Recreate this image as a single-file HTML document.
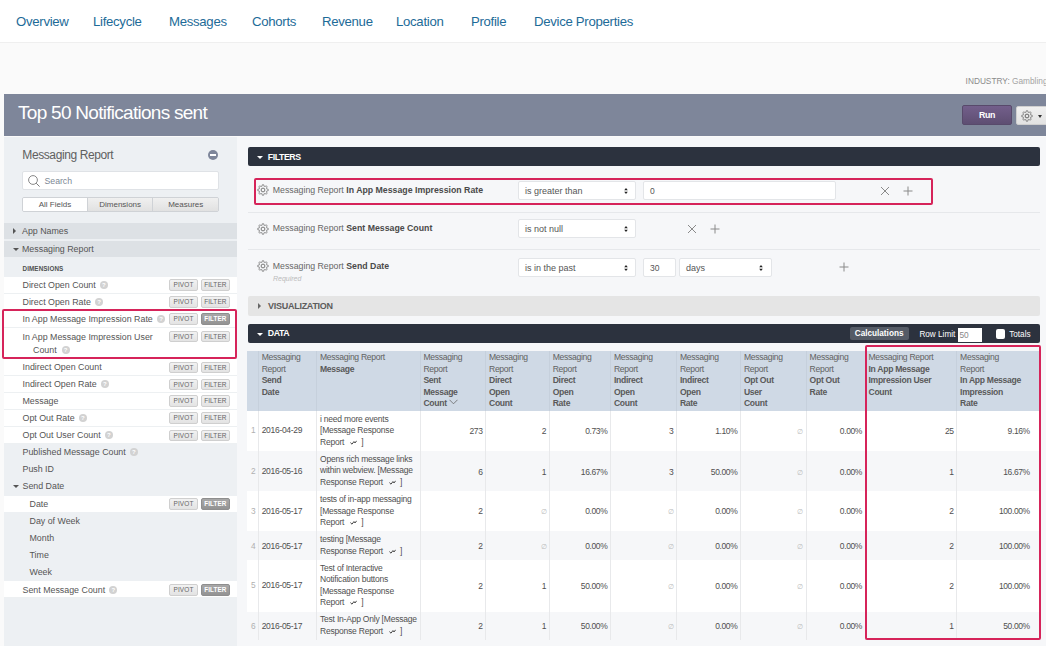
<!DOCTYPE html>
<html><head><meta charset="utf-8">
<style>
*{box-sizing:border-box;margin:0;padding:0}
html,body{width:1046px;height:646px;overflow:hidden;background:#fafafa;font-family:"Liberation Sans",sans-serif;color:#555}
.abs{position:absolute}
#nav{position:absolute;left:0;top:0;width:1046px;height:43px;background:#fff;border-bottom:1px solid #efefef}
#nav span{position:absolute;top:13.5px;font-size:13.2px;letter-spacing:-0.3px;color:#1d6b98;white-space:nowrap;line-height:16px}
#industry{position:absolute;left:965.6px;top:76px;font-size:8.3px;color:#a3a3a3;white-space:nowrap;line-height:10px}
#industry b{color:#8a8a8a;font-weight:400}
#titlebar{position:absolute;left:4px;top:94px;width:1042px;height:42px;background:#7e869a}
#titlebar .t{position:absolute;left:14px;top:8.4px;font-size:19px;letter-spacing:-0.72px;color:#fff;white-space:nowrap;line-height:22px}
#run{position:absolute;left:958px;top:11px;width:50px;height:20px;background:linear-gradient(#735f8b,#5e4e72);border:1px solid #584a6b;border-radius:2px;color:#fff;font-weight:700;font-size:8.8px;letter-spacing:-0.3px;text-align:center;line-height:19.5px}
#gear{position:absolute;left:1012px;top:12px;width:40px;height:19px;background:linear-gradient(#f0f0f0,#e2e2e2);border:1px solid #cfcfcf;border-radius:2px}
#panel{position:absolute;left:4px;top:137px;width:233px;height:509px;background:#edf0f3}
#content{position:absolute;left:237px;top:137px;width:809px;height:509px;background:#f6f7f9}

.ptitle{position:absolute;left:18.3px;top:11.1px;font-size:12px;letter-spacing:-0.4px;color:#606060;white-space:nowrap;line-height:14px}
.minus{position:absolute;left:203.7px;top:13.1px;width:10.4px;height:10.4px;border-radius:50%;background:#7e869a}
.minus:after{content:"";position:absolute;left:2px;top:4.4px;width:6.4px;height:1.6px;background:#fff}
.search{position:absolute;left:18px;top:34px;width:197px;height:19px;background:#fff;border:1px solid #dfe2e6;border-radius:2px}
.search span{position:absolute;left:21.5px;top:3px;font-size:8.7px;color:#7b8794;line-height:12px}
.tabs{position:absolute;left:18px;top:60px;width:197px;height:14.5px;border:1px solid #cfd2d6;border-radius:2px;display:flex;overflow:hidden}
.tab{height:100%;font-size:8px;color:#555;text-align:center;line-height:14px;background:linear-gradient(#f0f0f0,#e1e1e1);border-right:1px solid #cfd2d6}
.tab.act{background:#fff}
.vrow{position:absolute;left:0;width:233px}
.lbl{position:absolute;top:0.4px;font-size:8.85px;color:#555;white-space:nowrap}
.lbl2{position:absolute;top:3.1px;font-size:8.85px;color:#555;white-space:nowrap;line-height:12.7px}
.dimh{position:absolute;left:18.5px;top:127.8px;font-size:6.3px;font-weight:700;color:#505050;letter-spacing:0.1px;line-height:8px}
.fr{position:absolute;left:0;width:233px}
.hq{display:inline-block;width:8px;height:8px;border-radius:50%;background:#d2d2d2;margin-left:4.2px;vertical-align:-1px;position:relative}
.hq:after{content:"?";position:absolute;left:0;top:0;width:8px;line-height:8px;font-size:6px;font-style:normal;font-weight:700;color:#fff;text-align:center}
.pb{position:absolute;top:2.9px;width:28.4px;height:11.5px;border:1px solid #cfcfcf;border-radius:2px;background:linear-gradient(#f2f2f2,#e3e3e3);font-size:6.5px;color:#666;text-align:center;line-height:9.5px;letter-spacing:0.1px}
.pb.fa{background:linear-gradient(#a8a8a8,#939393);border-color:#8e8e8e;color:#fff;font-weight:700;font-size:6.3px}
.tri-r{position:absolute;width:0;height:0;border-top:3.5px solid transparent;border-bottom:3.5px solid transparent;border-left:3.5px solid #555}
.tri-d{position:absolute;width:0;height:0;border-left:3.5px solid transparent;border-right:3.5px solid transparent;border-top:3.5px solid #555}
.redbox{position:absolute;border:2px solid #d6245a;border-radius:2px;pointer-events:none}

.dbar{position:absolute;left:11px;width:792px;height:19px;background:#2c323e;border-radius:2px}
.dbar>span{position:absolute;left:19.8px;top:4.6px;font-size:8.8px;font-weight:700;color:#fff;line-height:10px;letter-spacing:-0.45px}
.tri-dw{position:absolute;width:0;height:0;border-left:3px solid transparent;border-right:3px solid transparent;border-top:3.2px solid #fff}
.tri-rw{position:absolute;width:0;height:0;border-top:3px solid transparent;border-bottom:3px solid transparent;border-left:3px solid #666}
.gear{position:absolute}
.ftxt{position:absolute;left:35.8px;font-size:8.75px;color:#666;white-space:nowrap;line-height:12px}
.ftxt b{color:#4a4a4a}
.sel{position:absolute;height:19px;background:#fff;border:1px solid #e3e5e8;border-radius:2px;font-size:9px;color:#555;padding-left:6px;line-height:19px;white-space:nowrap}
.inp{position:absolute;height:19px;background:#fff;border:1px solid #e3e5e8;border-radius:2px;font-size:8.5px;color:#555;padding-left:6px;line-height:19px}
.xi{position:absolute}
.hsep{position:absolute;left:11px;width:792px;height:1px;background:#e6e8eb}
.req{position:absolute;left:36px;top:136.5px;font-size:7px;font-style:italic;color:#bbb;line-height:9px}
.vbar{position:absolute;left:10.5px;top:159.3px;width:792.5px;height:19.5px;background:#e5e5e5;border-radius:2px}
.vbar span{position:absolute;left:20.6px;top:4.9px;font-size:9px;letter-spacing:-0.28px;font-weight:700;color:#5c5c5c;line-height:10px}
.calc{position:absolute;left:601.6px;top:3.4px;width:59px;height:12.4px;background:#555b66;border-radius:2px;color:#fff;font-weight:700;font-size:8.2px;text-align:center;line-height:13.6px}
.rl{position:absolute;left:671.4px;top:4.8px;font-size:8.2px;color:#fff;line-height:11px;white-space:nowrap}
.rlin{position:absolute;left:709.5px;top:4.6px;width:24.3px;height:13.4px;background:#fff;font-size:8.3px;color:#888;padding-left:2px;line-height:15.5px}
.cb{position:absolute;left:748.4px;top:5.6px;width:8.7px;height:9.6px;background:#fff;border-radius:2px}
.tot{position:absolute;left:761.2px;top:4.8px;font-size:8.2px;color:#fff;line-height:11px}

#tbl{position:absolute;width:792px;height:290px}
.thead{position:absolute;background:#cfd9e5}
.vdh{position:absolute;width:1px;background:#c6d0dc}
.vd{position:absolute;width:1px;background:#e8e9eb}
.hc{position:absolute;font-size:8.6px;letter-spacing:-0.3px;line-height:11.45px;color:#626262;white-space:nowrap}
.hc b{color:#5a5a5a}
.tr{position:absolute;left:0}
.rn{position:absolute;top:0.5px;font-size:8.3px;color:#b0b0b0;text-align:center;padding-left:1px}
.bc{position:absolute;top:0.5px;font-size:8.5px;letter-spacing:-0.3px;color:#505050;white-space:nowrap}
.mc{position:absolute;font-size:8.5px;letter-spacing:-0.21px;line-height:11.45px;color:#505050;white-space:nowrap}
.nc{position:absolute;top:0.7px;font-size:8.5px;letter-spacing:-0.38px;color:#505050;white-space:nowrap;text-align:right}
.nul{font-size:7px;color:#bbb}
</style></head><body>
<div id="nav">
<span style="left:16px">Overview</span>
<span style="left:93px">Lifecycle</span>
<span style="left:169px">Messages</span>
<span style="left:252px">Cohorts</span>
<span style="left:322px">Revenue</span>
<span style="left:396px">Location</span>
<span style="left:471px">Profile</span>
<span style="left:534px">Device Properties</span>
</div>
<div id="industry"><b>INDUSTRY:</b> Gambling</div>
<div id="titlebar"><div class="t">Top 50 Notifications sent</div>
<div id="run">Run</div>
<div id="gear"><svg width="12" height="12" viewBox="-6 -6 12 12" style="position:absolute;left:3.5px;top:2.6px"><path d="M0.00 -5.25 L0.34 -5.24 L0.69 -5.21 L0.89 -4.46 L1.00 -3.72 L1.24 -3.65 L1.47 -3.56 L1.70 -3.45 L1.92 -3.33 L2.53 -3.78 L3.20 -4.17 L3.46 -3.95 L3.71 -3.71 L3.95 -3.46 L4.17 -3.20 L3.78 -2.53 L3.33 -1.92 L3.45 -1.70 L3.56 -1.47 L3.65 -1.24 L3.72 -1.00 L4.46 -0.89 L5.21 -0.69 L5.24 -0.34 L5.25 0.00 L5.24 0.34 L5.21 0.69 L4.46 0.89 L3.72 1.00 L3.65 1.24 L3.56 1.47 L3.45 1.70 L3.33 1.92 L3.78 2.53 L4.17 3.20 L3.95 3.46 L3.71 3.71 L3.46 3.95 L3.20 4.17 L2.53 3.78 L1.92 3.33 L1.70 3.45 L1.47 3.56 L1.24 3.65 L1.00 3.72 L0.89 4.46 L0.69 5.21 L0.34 5.24 L0.00 5.25 L-0.34 5.24 L-0.69 5.21 L-0.89 4.46 L-1.00 3.72 L-1.24 3.65 L-1.47 3.56 L-1.70 3.45 L-1.92 3.33 L-2.53 3.78 L-3.20 4.17 L-3.46 3.95 L-3.71 3.71 L-3.95 3.46 L-4.17 3.20 L-3.78 2.53 L-3.33 1.93 L-3.45 1.70 L-3.56 1.47 L-3.65 1.24 L-3.72 1.00 L-4.46 0.89 L-5.21 0.69 L-5.24 0.34 L-5.25 0.00 L-5.24 -0.34 L-5.21 -0.69 L-4.46 -0.89 L-3.72 -1.00 L-3.65 -1.24 L-3.56 -1.47 L-3.45 -1.70 L-3.33 -1.93 L-3.78 -2.53 L-4.17 -3.20 L-3.95 -3.46 L-3.71 -3.71 L-3.46 -3.95 L-3.20 -4.17 L-2.53 -3.78 L-1.93 -3.33 L-1.70 -3.45 L-1.47 -3.56 L-1.24 -3.65 L-1.00 -3.72 L-0.89 -4.46 L-0.69 -5.21 L-0.34 -5.24 Z" fill="none" stroke="#666" stroke-width="0.8"/><circle r="1.9" fill="none" stroke="#666" stroke-width="1"/></svg><i style="position:absolute;left:21px;top:8px;width:0;height:0;border-left:2.5px solid transparent;border-right:2.5px solid transparent;border-top:3px solid #333"></i></div>
</div>
<div id="panel">
<div class="ptitle">Messaging Report</div>
<div class="minus"></div>
<div class="search"><svg width="13" height="13" viewBox="0 0 13 13" style="position:absolute;left:5px;top:3px"><circle cx="5" cy="5" r="4.4" fill="none" stroke="#7a7a7a" stroke-width="0.9"/><line x1="8.2" y1="8.2" x2="11.6" y2="11.6" stroke="#7a7a7a" stroke-width="1"/></svg><span>Search</span></div>
<div class="tabs"><div class="tab act" style="width:65.4px">All Fields</div><div class="tab" style="width:65.9px">Dimensions</div><div class="tab" style="width:65.1px;border-right:0">Measures</div></div>
<div class="vrow" style="top:86px;height:16px;background:#dde1e5"><i class="tri-r" style="left:9px;top:5px"></i><div class="lbl" style="left:18px;line-height:16px">App Names</div></div>
<div class="vrow" style="top:103.5px;height:16.5px;background:#dde1e5"><i class="tri-d" style="left:9px;top:7px"></i><div class="lbl" style="left:18px;line-height:16.5px">Messaging Report</div></div>
<div class="dimh">DIMENSIONS</div>
<div class="fr" style="top:139.5px;height:17px;background:#fff;border-bottom:1px solid #edf0f2;"><div class="lbl" style="left:18.5px;line-height:17px">Direct Open Count<i class="hq"></i></div><div class="pb" style="left:165.3px">PIVOT</div><div class="pb" style="left:197.2px">FILTER</div></div>
<div class="fr" style="top:156.5px;height:17px;background:#fff;border-bottom:1px solid #edf0f2;"><div class="lbl" style="left:18.5px;line-height:17px">Direct Open Rate<i class="hq"></i></div><div class="pb" style="left:165.3px">PIVOT</div><div class="pb" style="left:197.2px">FILTER</div></div>
<div class="fr" style="top:173.5px;height:17.5px;background:#fff;border-bottom:1px solid #edf0f2;"><div class="lbl" style="left:18.5px;line-height:17.5px">In App Message Impression Rate<i class="hq"></i></div><div class="pb" style="left:165.3px">PIVOT</div><div class="pb fa" style="left:197.2px">FILTER</div></div>
<div class="fr" style="top:191.0px;height:31px;background:#fff;border-bottom:1px solid #edf0f2;"><div class="lbl2" style="left:18.5px">In App Message Impression User<br><span style="padding-left:10.5px">Count</span><i class="hq" style="margin-left:5px"></i></div><div class="pb" style="left:165.3px">PIVOT</div><div class="pb" style="left:197.2px">FILTER</div></div>
<div class="fr" style="top:222.0px;height:16.8px;background:#fff;border-bottom:1px solid #edf0f2;"><div class="lbl" style="left:18.5px;line-height:16.8px">Indirect Open Count</div><div class="pb" style="left:165.3px">PIVOT</div><div class="pb" style="left:197.2px">FILTER</div></div>
<div class="fr" style="top:238.8px;height:16.8px;background:#fff;border-bottom:1px solid #edf0f2;"><div class="lbl" style="left:18.5px;line-height:16.8px">Indirect Open Rate<i class="hq"></i></div><div class="pb" style="left:165.3px">PIVOT</div><div class="pb" style="left:197.2px">FILTER</div></div>
<div class="fr" style="top:255.6px;height:17px;background:#fff;border-bottom:1px solid #edf0f2;"><div class="lbl" style="left:18.5px;line-height:17px">Message</div><div class="pb" style="left:165.3px">PIVOT</div><div class="pb" style="left:197.2px">FILTER</div></div>
<div class="fr" style="top:272.6px;height:17.1px;background:#fff;border-bottom:1px solid #edf0f2;"><div class="lbl" style="left:18.5px;line-height:17.1px">Opt Out Rate<i class="hq"></i></div><div class="pb" style="left:165.3px">PIVOT</div><div class="pb" style="left:197.2px">FILTER</div></div>
<div class="fr" style="top:289.7px;height:17px;background:#fff;border-bottom:1px solid #edf0f2;"><div class="lbl" style="left:18.5px;line-height:17px">Opt Out User Count<i class="hq"></i></div><div class="pb" style="left:165.3px">PIVOT</div><div class="pb" style="left:197.2px">FILTER</div></div>
<div class="fr" style="top:306.7px;height:16.9px;background:#edf0f3;"><div class="lbl" style="left:18.5px;line-height:16.9px">Published Message Count<i class="hq"></i></div></div>
<div class="fr" style="top:323.6px;height:17px;background:#edf0f3;"><div class="lbl" style="left:18.5px;line-height:17px">Push ID</div></div>
<div class="fr" style="top:340.6px;height:17.9px;background:#edf0f3;"><div class="lbl" style="left:18.5px;line-height:17.9px">Send Date</div><i class="tri-d" style="left:9px;top:7.5px"></i></div>
<div class="fr" style="top:358.5px;height:17px;background:#fff;border-bottom:1px solid #edf0f2;"><div class="lbl" style="left:25.5px;line-height:16.8px">Date</div><div class="pb" style="left:165.3px">PIVOT</div><div class="pb fa" style="left:197.2px">FILTER</div></div>
<div class="fr" style="top:375.3px;height:17.2px;background:#edf0f3;"><div class="lbl" style="left:25.5px;line-height:17.2px">Day of Week</div></div>
<div class="fr" style="top:392.5px;height:17.2px;background:#edf0f3;"><div class="lbl" style="left:25.5px;line-height:17.2px">Month</div></div>
<div class="fr" style="top:409.7px;height:17.2px;background:#edf0f3;"><div class="lbl" style="left:25.5px;line-height:17.2px">Time</div></div>
<div class="fr" style="top:426.9px;height:17.4px;background:#edf0f3;"><div class="lbl" style="left:25.5px;line-height:17.4px">Week</div></div>
<div class="fr" style="top:444.3px;height:17.2px;background:#fff;border-bottom:1px solid #edf0f2;"><div class="lbl" style="left:18.5px;line-height:16.9px">Sent Message Count<i class="hq"></i></div><div class="pb" style="left:165.3px">PIVOT</div><div class="pb fa" style="left:197.2px">FILTER</div></div>
<div class="redbox" style="left:-1.8px;top:172px;width:234.6px;height:49.8px"></div>
</div>
<div id="content">
<div class="dbar" style="top:10px"><i class="tri-dw" style="left:9px;top:8.8px"></i><span>FILTERS</span></div>
<svg class="gear" style="left:20.2px;top:47.0px" width="12" height="12" viewBox="-6 -6 12 12"><path d="M0.00 -5.25 L0.34 -5.24 L0.69 -5.21 L0.89 -4.46 L1.00 -3.72 L1.24 -3.65 L1.47 -3.56 L1.70 -3.45 L1.92 -3.33 L2.53 -3.78 L3.20 -4.17 L3.46 -3.95 L3.71 -3.71 L3.95 -3.46 L4.17 -3.20 L3.78 -2.53 L3.33 -1.92 L3.45 -1.70 L3.56 -1.47 L3.65 -1.24 L3.72 -1.00 L4.46 -0.89 L5.21 -0.69 L5.24 -0.34 L5.25 0.00 L5.24 0.34 L5.21 0.69 L4.46 0.89 L3.72 1.00 L3.65 1.24 L3.56 1.47 L3.45 1.70 L3.33 1.92 L3.78 2.53 L4.17 3.20 L3.95 3.46 L3.71 3.71 L3.46 3.95 L3.20 4.17 L2.53 3.78 L1.92 3.33 L1.70 3.45 L1.47 3.56 L1.24 3.65 L1.00 3.72 L0.89 4.46 L0.69 5.21 L0.34 5.24 L0.00 5.25 L-0.34 5.24 L-0.69 5.21 L-0.89 4.46 L-1.00 3.72 L-1.24 3.65 L-1.47 3.56 L-1.70 3.45 L-1.92 3.33 L-2.53 3.78 L-3.20 4.17 L-3.46 3.95 L-3.71 3.71 L-3.95 3.46 L-4.17 3.20 L-3.78 2.53 L-3.33 1.93 L-3.45 1.70 L-3.56 1.47 L-3.65 1.24 L-3.72 1.00 L-4.46 0.89 L-5.21 0.69 L-5.24 0.34 L-5.25 0.00 L-5.24 -0.34 L-5.21 -0.69 L-4.46 -0.89 L-3.72 -1.00 L-3.65 -1.24 L-3.56 -1.47 L-3.45 -1.70 L-3.33 -1.93 L-3.78 -2.53 L-4.17 -3.20 L-3.95 -3.46 L-3.71 -3.71 L-3.46 -3.95 L-3.20 -4.17 L-2.53 -3.78 L-1.93 -3.33 L-1.70 -3.45 L-1.47 -3.56 L-1.24 -3.65 L-1.00 -3.72 L-0.89 -4.46 L-0.69 -5.21 L-0.34 -5.24 Z" fill="none" stroke="#777" stroke-width="0.9"/><circle r="1.9" fill="none" stroke="#777" stroke-width="1"/></svg>
<div class="ftxt" style="top:47px">Messaging Report <b>In App Message Impression Rate</b></div>
<div class="sel" style="left:281px;top:44px;width:118px">is greater than<svg width="4" height="6" viewBox="0 0 4 6" style="position:absolute;right:7.5px;top:6px"><path d="M2 0 L3.8 2.3 L0.2 2.3 Z M2 6 L3.8 3.7 L0.2 3.7 Z" fill="#222"/></svg></div>
<div class="inp" style="left:406px;top:44px;width:193px">0</div>
<svg class="xi" width="10" height="10" viewBox="0 0 10 10" style="left:643px;top:49.30000000000001px"><path d="M1 1 L9 9 M9 1 L1 9" stroke="#8a8a8a" stroke-width="1"/></svg><svg class="xi" width="10" height="10" viewBox="0 0 10 10" style="left:666px;top:49.30000000000001px"><path d="M5 0.5 L5 9.5 M0.5 5 L9.5 5" stroke="#8a8a8a" stroke-width="1"/></svg>
<div class="redbox" style="left:16.8px;top:41px;width:679.5px;height:26.5px"></div>
<div class="hsep" style="top:74.5px"></div>
<svg class="gear" style="left:20.2px;top:85.5px" width="12" height="12" viewBox="-6 -6 12 12"><path d="M0.00 -5.25 L0.34 -5.24 L0.69 -5.21 L0.89 -4.46 L1.00 -3.72 L1.24 -3.65 L1.47 -3.56 L1.70 -3.45 L1.92 -3.33 L2.53 -3.78 L3.20 -4.17 L3.46 -3.95 L3.71 -3.71 L3.95 -3.46 L4.17 -3.20 L3.78 -2.53 L3.33 -1.92 L3.45 -1.70 L3.56 -1.47 L3.65 -1.24 L3.72 -1.00 L4.46 -0.89 L5.21 -0.69 L5.24 -0.34 L5.25 0.00 L5.24 0.34 L5.21 0.69 L4.46 0.89 L3.72 1.00 L3.65 1.24 L3.56 1.47 L3.45 1.70 L3.33 1.92 L3.78 2.53 L4.17 3.20 L3.95 3.46 L3.71 3.71 L3.46 3.95 L3.20 4.17 L2.53 3.78 L1.92 3.33 L1.70 3.45 L1.47 3.56 L1.24 3.65 L1.00 3.72 L0.89 4.46 L0.69 5.21 L0.34 5.24 L0.00 5.25 L-0.34 5.24 L-0.69 5.21 L-0.89 4.46 L-1.00 3.72 L-1.24 3.65 L-1.47 3.56 L-1.70 3.45 L-1.92 3.33 L-2.53 3.78 L-3.20 4.17 L-3.46 3.95 L-3.71 3.71 L-3.95 3.46 L-4.17 3.20 L-3.78 2.53 L-3.33 1.93 L-3.45 1.70 L-3.56 1.47 L-3.65 1.24 L-3.72 1.00 L-4.46 0.89 L-5.21 0.69 L-5.24 0.34 L-5.25 0.00 L-5.24 -0.34 L-5.21 -0.69 L-4.46 -0.89 L-3.72 -1.00 L-3.65 -1.24 L-3.56 -1.47 L-3.45 -1.70 L-3.33 -1.93 L-3.78 -2.53 L-4.17 -3.20 L-3.95 -3.46 L-3.71 -3.71 L-3.46 -3.95 L-3.20 -4.17 L-2.53 -3.78 L-1.93 -3.33 L-1.70 -3.45 L-1.47 -3.56 L-1.24 -3.65 L-1.00 -3.72 L-0.89 -4.46 L-0.69 -5.21 L-0.34 -5.24 Z" fill="none" stroke="#777" stroke-width="0.9"/><circle r="1.9" fill="none" stroke="#777" stroke-width="1"/></svg>
<div class="ftxt" style="top:85px">Messaging Report <b>Sent Message Count</b></div>
<div class="sel" style="left:281px;top:82px;width:118px">is not null<svg width="4" height="6" viewBox="0 0 4 6" style="position:absolute;right:7.5px;top:6px"><path d="M2 0 L3.8 2.3 L0.2 2.3 Z M2 6 L3.8 3.7 L0.2 3.7 Z" fill="#222"/></svg></div>
<svg class="xi" width="10" height="10" viewBox="0 0 10 10" style="left:450px;top:86.80000000000001px"><path d="M1 1 L9 9 M9 1 L1 9" stroke="#8a8a8a" stroke-width="1"/></svg><svg class="xi" width="10" height="10" viewBox="0 0 10 10" style="left:473px;top:86.80000000000001px"><path d="M5 0.5 L5 9.5 M0.5 5 L9.5 5" stroke="#8a8a8a" stroke-width="1"/></svg>
<div class="hsep" style="top:112px"></div>
<svg class="gear" style="left:20.2px;top:122.5px" width="12" height="12" viewBox="-6 -6 12 12"><path d="M0.00 -5.25 L0.34 -5.24 L0.69 -5.21 L0.89 -4.46 L1.00 -3.72 L1.24 -3.65 L1.47 -3.56 L1.70 -3.45 L1.92 -3.33 L2.53 -3.78 L3.20 -4.17 L3.46 -3.95 L3.71 -3.71 L3.95 -3.46 L4.17 -3.20 L3.78 -2.53 L3.33 -1.92 L3.45 -1.70 L3.56 -1.47 L3.65 -1.24 L3.72 -1.00 L4.46 -0.89 L5.21 -0.69 L5.24 -0.34 L5.25 0.00 L5.24 0.34 L5.21 0.69 L4.46 0.89 L3.72 1.00 L3.65 1.24 L3.56 1.47 L3.45 1.70 L3.33 1.92 L3.78 2.53 L4.17 3.20 L3.95 3.46 L3.71 3.71 L3.46 3.95 L3.20 4.17 L2.53 3.78 L1.92 3.33 L1.70 3.45 L1.47 3.56 L1.24 3.65 L1.00 3.72 L0.89 4.46 L0.69 5.21 L0.34 5.24 L0.00 5.25 L-0.34 5.24 L-0.69 5.21 L-0.89 4.46 L-1.00 3.72 L-1.24 3.65 L-1.47 3.56 L-1.70 3.45 L-1.92 3.33 L-2.53 3.78 L-3.20 4.17 L-3.46 3.95 L-3.71 3.71 L-3.95 3.46 L-4.17 3.20 L-3.78 2.53 L-3.33 1.93 L-3.45 1.70 L-3.56 1.47 L-3.65 1.24 L-3.72 1.00 L-4.46 0.89 L-5.21 0.69 L-5.24 0.34 L-5.25 0.00 L-5.24 -0.34 L-5.21 -0.69 L-4.46 -0.89 L-3.72 -1.00 L-3.65 -1.24 L-3.56 -1.47 L-3.45 -1.70 L-3.33 -1.93 L-3.78 -2.53 L-4.17 -3.20 L-3.95 -3.46 L-3.71 -3.71 L-3.46 -3.95 L-3.20 -4.17 L-2.53 -3.78 L-1.93 -3.33 L-1.70 -3.45 L-1.47 -3.56 L-1.24 -3.65 L-1.00 -3.72 L-0.89 -4.46 L-0.69 -5.21 L-0.34 -5.24 Z" fill="none" stroke="#777" stroke-width="0.9"/><circle r="1.9" fill="none" stroke="#777" stroke-width="1"/></svg>
<div class="ftxt" style="top:123px">Messaging Report <b>Send Date</b></div>
<div class="req">Required</div>
<div class="sel" style="left:281px;top:120.5px;width:118px">is in the past<svg width="4" height="6" viewBox="0 0 4 6" style="position:absolute;right:7.5px;top:6px"><path d="M2 0 L3.8 2.3 L0.2 2.3 Z M2 6 L3.8 3.7 L0.2 3.7 Z" fill="#222"/></svg></div>
<div class="inp" style="left:406px;top:120.5px;width:32.5px">30</div>
<div class="sel" style="left:442px;top:120.5px;width:92.6px">days<svg width="4" height="6" viewBox="0 0 4 6" style="position:absolute;right:7.5px;top:6px"><path d="M2 0 L3.8 2.3 L0.2 2.3 Z M2 6 L3.8 3.7 L0.2 3.7 Z" fill="#222"/></svg></div>
<svg class="xi" width="10" height="10" viewBox="0 0 10 10" style="left:601.6px;top:125.19999999999999px"><path d="M5 0.5 L5 9.5 M0.5 5 L9.5 5" stroke="#8a8a8a" stroke-width="1"/></svg>
<div class="vbar"><i class="tri-rw" style="left:10.3px;top:6.8px"></i><span>VISUALIZATION</span></div>
<div class="dbar" style="top:186.8px"><i class="tri-dw" style="left:9px;top:8.8px"></i><span>DATA</span>
<div class="calc">Calculations</div><div class="rl">Row Limit</div><div class="rlin">50</div><div class="cb"></div><div class="tot">Totals</div></div>
<div id="tbl" style="left:10.4px;top:213.6px">
<div class="thead" style="left:0;top:0;width:792.0px;height:60.2px"></div>
<div class="vdh" style="left:10.5px;top:0;height:60.2px"></div>
<div class="vdh" style="left:68.8px;top:0;height:60.2px"></div>
<div class="vdh" style="left:172.2px;top:0;height:60.2px"></div>
<div class="vdh" style="left:237.8px;top:0;height:60.2px"></div>
<div class="vdh" style="left:301.5px;top:0;height:60.2px"></div>
<div class="vdh" style="left:362.7px;top:0;height:60.2px"></div>
<div class="vdh" style="left:428.7px;top:0;height:60.2px"></div>
<div class="vdh" style="left:492.7px;top:0;height:60.2px"></div>
<div class="vdh" style="left:558.4px;top:0;height:60.2px"></div>
<div class="vdh" style="left:617.3px;top:0;height:60.2px"></div>
<div class="vdh" style="left:708.9px;top:0;height:60.2px"></div>
<div class="hc" style="left:14.3px;top:1.8px">Messaging<br>Report<br><b>Send<br>Date</b></div>
<div class="hc" style="left:72.6px;top:1.8px">Messaging Report<br><b>Message</b></div>
<div class="hc" style="left:176.0px;top:1.8px">Messaging<br>Report<br><b>Sent<br>Message<br>Count <svg width='9' height='6' viewBox='0 0 9 6' style='vertical-align:1px'><path d='M0.5 0.8 L4.5 4.8 L8.5 0.8' fill='none' stroke='#666' stroke-width='0.8'/></svg></b></div>
<div class="hc" style="left:241.6px;top:1.8px">Messaging<br>Report<br><b>Direct<br>Open<br>Count</b></div>
<div class="hc" style="left:305.3px;top:1.8px">Messaging<br>Report<br><b>Direct<br>Open<br>Rate</b></div>
<div class="hc" style="left:366.5px;top:1.8px">Messaging<br>Report<br><b>Indirect<br>Open<br>Count</b></div>
<div class="hc" style="left:432.5px;top:1.8px">Messaging<br>Report<br><b>Indirect<br>Open<br>Rate</b></div>
<div class="hc" style="left:496.5px;top:1.8px">Messaging<br>Report<br><b>Opt Out<br>User<br>Count</b></div>
<div class="hc" style="left:562.2px;top:1.8px">Messaging<br>Report<br><b>Opt Out<br>Rate</b></div>
<div class="hc" style="left:621.1px;top:1.8px">Messaging Report<br><b>In App Message<br>Impression User<br>Count</b></div>
<div class="hc" style="left:712.7px;top:1.8px">Messaging<br>Report<br><b>In App Message<br>Impression<br>Rate</b></div>
<div class="tr" style="top:60.4px;height:39.9px;width:792.0px;background:#fff">
<div class="rn" style="left:0;width:11.0px;line-height:39.9px">1</div>
<div class="bc" style="left:14.3px;line-height:39.9px">2016-04-29</div>
<div class="mc" style="left:72.6px;top:2.77px">i need more events<br>[Message Response<br>Report<svg width='7' height='5' viewBox='0 0 7 5' style='margin:0 4px 0 6px;vertical-align:0px'><path d='M0.4 2.6 L2 4.2 L4.2 1.2 M4.2 2.2 L5 3 L6.6 0.8' fill='none' stroke='#333' stroke-width='0.9'/></svg>]</div>
<div class="nc" style="right:556.9px;line-height:39.9px">273</div>
<div class="nc" style="right:493.2px;line-height:39.9px">2</div>
<div class="nc" style="right:432.0px;line-height:39.9px">0.73%</div>
<div class="nc" style="right:366.0px;line-height:39.9px">3</div>
<div class="nc" style="right:302.0px;line-height:39.9px">1.10%</div>
<div class="nc" style="right:236.3px;line-height:39.9px"><span class="nul">&#8709;</span></div>
<div class="nc" style="right:177.4px;line-height:39.9px">0.00%</div>
<div class="nc" style="right:85.8px;line-height:39.9px">25</div>
<div class="nc" style="right:9.6px;line-height:39.9px">9.16%</div>
</div>
<div class="tr" style="top:100.3px;height:40.6px;width:792.0px;background:#f6f7f9">
<div class="rn" style="left:0;width:11.0px;line-height:40.6px">2</div>
<div class="bc" style="left:14.3px;line-height:40.6px">2016-05-16</div>
<div class="mc" style="left:72.6px;top:3.13px">Opens rich message links<br>within webview. [Message<br>Response Report<svg width='7' height='5' viewBox='0 0 7 5' style='margin:0 4px 0 6px;vertical-align:0px'><path d='M0.4 2.6 L2 4.2 L4.2 1.2 M4.2 2.2 L5 3 L6.6 0.8' fill='none' stroke='#333' stroke-width='0.9'/></svg>]</div>
<div class="nc" style="right:556.9px;line-height:40.6px">6</div>
<div class="nc" style="right:493.2px;line-height:40.6px">1</div>
<div class="nc" style="right:432.0px;line-height:40.6px">16.67%</div>
<div class="nc" style="right:366.0px;line-height:40.6px">3</div>
<div class="nc" style="right:302.0px;line-height:40.6px">50.00%</div>
<div class="nc" style="right:236.3px;line-height:40.6px"><span class="nul">&#8709;</span></div>
<div class="nc" style="right:177.4px;line-height:40.6px">0.00%</div>
<div class="nc" style="right:85.8px;line-height:40.6px">1</div>
<div class="nc" style="right:9.6px;line-height:40.6px">16.67%</div>
</div>
<div class="tr" style="top:140.9px;height:39.8px;width:792.0px;background:#fff">
<div class="rn" style="left:0;width:11.0px;line-height:39.8px">3</div>
<div class="bc" style="left:14.3px;line-height:39.8px">2016-05-17</div>
<div class="mc" style="left:72.6px;top:2.72px">tests of in-app messaging<br>[Message Response<br>Report<svg width='7' height='5' viewBox='0 0 7 5' style='margin:0 4px 0 6px;vertical-align:0px'><path d='M0.4 2.6 L2 4.2 L4.2 1.2 M4.2 2.2 L5 3 L6.6 0.8' fill='none' stroke='#333' stroke-width='0.9'/></svg>]</div>
<div class="nc" style="right:556.9px;line-height:39.8px">2</div>
<div class="nc" style="right:493.2px;line-height:39.8px"><span class="nul">&#8709;</span></div>
<div class="nc" style="right:432.0px;line-height:39.8px">0.00%</div>
<div class="nc" style="right:366.0px;line-height:39.8px"><span class="nul">&#8709;</span></div>
<div class="nc" style="right:302.0px;line-height:39.8px">0.00%</div>
<div class="nc" style="right:236.3px;line-height:39.8px"><span class="nul">&#8709;</span></div>
<div class="nc" style="right:177.4px;line-height:39.8px">0.00%</div>
<div class="nc" style="right:85.8px;line-height:39.8px">2</div>
<div class="nc" style="right:9.6px;line-height:39.8px">100.00%</div>
</div>
<div class="tr" style="top:180.7px;height:28.7px;width:792.0px;background:#f6f7f9">
<div class="rn" style="left:0;width:11.0px;line-height:28.7px">4</div>
<div class="bc" style="left:14.3px;line-height:28.7px">2016-05-17</div>
<div class="mc" style="left:72.6px;top:2.90px">testing [Message<br>Response Report<svg width='7' height='5' viewBox='0 0 7 5' style='margin:0 4px 0 6px;vertical-align:0px'><path d='M0.4 2.6 L2 4.2 L4.2 1.2 M4.2 2.2 L5 3 L6.6 0.8' fill='none' stroke='#333' stroke-width='0.9'/></svg>]</div>
<div class="nc" style="right:556.9px;line-height:28.7px">2</div>
<div class="nc" style="right:493.2px;line-height:28.7px"><span class="nul">&#8709;</span></div>
<div class="nc" style="right:432.0px;line-height:28.7px">0.00%</div>
<div class="nc" style="right:366.0px;line-height:28.7px"><span class="nul">&#8709;</span></div>
<div class="nc" style="right:302.0px;line-height:28.7px">0.00%</div>
<div class="nc" style="right:236.3px;line-height:28.7px"><span class="nul">&#8709;</span></div>
<div class="nc" style="right:177.4px;line-height:28.7px">0.00%</div>
<div class="nc" style="right:85.8px;line-height:28.7px">2</div>
<div class="nc" style="right:9.6px;line-height:28.7px">100.00%</div>
</div>
<div class="tr" style="top:209.4px;height:51.8px;width:792.0px;background:#fff">
<div class="rn" style="left:0;width:11.0px;line-height:51.4px">5</div>
<div class="bc" style="left:14.3px;line-height:51.4px">2016-05-17</div>
<div class="mc" style="left:72.6px;top:2.80px">Test of Interactive<br>Notification buttons<br>[Message Response<br>Report<svg width='7' height='5' viewBox='0 0 7 5' style='margin:0 4px 0 6px;vertical-align:0px'><path d='M0.4 2.6 L2 4.2 L4.2 1.2 M4.2 2.2 L5 3 L6.6 0.8' fill='none' stroke='#333' stroke-width='0.9'/></svg>]</div>
<div class="nc" style="right:556.9px;line-height:51.4px">2</div>
<div class="nc" style="right:493.2px;line-height:51.4px">1</div>
<div class="nc" style="right:432.0px;line-height:51.4px">50.00%</div>
<div class="nc" style="right:366.0px;line-height:51.4px"><span class="nul">&#8709;</span></div>
<div class="nc" style="right:302.0px;line-height:51.4px">0.00%</div>
<div class="nc" style="right:236.3px;line-height:51.4px"><span class="nul">&#8709;</span></div>
<div class="nc" style="right:177.4px;line-height:51.4px">0.00%</div>
<div class="nc" style="right:85.8px;line-height:51.4px">2</div>
<div class="nc" style="right:9.6px;line-height:51.4px">100.00%</div>
</div>
<div class="tr" style="top:261.2px;height:27.8px;width:792.0px;background:#f6f7f9">
<div class="rn" style="left:0;width:11.0px;line-height:28.3px">6</div>
<div class="bc" style="left:14.3px;line-height:28.3px">2016-05-17</div>
<div class="mc" style="left:72.6px;top:2.70px">Test In-App Only [Message<br>Response Report<svg width='7' height='5' viewBox='0 0 7 5' style='margin:0 4px 0 6px;vertical-align:0px'><path d='M0.4 2.6 L2 4.2 L4.2 1.2 M4.2 2.2 L5 3 L6.6 0.8' fill='none' stroke='#333' stroke-width='0.9'/></svg>]</div>
<div class="nc" style="right:556.9px;line-height:28.3px">2</div>
<div class="nc" style="right:493.2px;line-height:28.3px">1</div>
<div class="nc" style="right:432.0px;line-height:28.3px">50.00%</div>
<div class="nc" style="right:366.0px;line-height:28.3px"><span class="nul">&#8709;</span></div>
<div class="nc" style="right:302.0px;line-height:28.3px">0.00%</div>
<div class="nc" style="right:236.3px;line-height:28.3px"><span class="nul">&#8709;</span></div>
<div class="nc" style="right:177.4px;line-height:28.3px">0.00%</div>
<div class="nc" style="right:85.8px;line-height:28.3px">1</div>
<div class="nc" style="right:9.6px;line-height:28.3px">50.00%</div>
</div>
<div class="vd" style="left:10.5px;top:60.4px;height:228.7px"></div>
<div class="vd" style="left:68.8px;top:60.4px;height:228.7px"></div>
<div class="vd" style="left:172.2px;top:60.4px;height:228.7px"></div>
<div class="vd" style="left:237.8px;top:60.4px;height:228.7px"></div>
<div class="vd" style="left:301.5px;top:60.4px;height:228.7px"></div>
<div class="vd" style="left:362.7px;top:60.4px;height:228.7px"></div>
<div class="vd" style="left:428.7px;top:60.4px;height:228.7px"></div>
<div class="vd" style="left:492.7px;top:60.4px;height:228.7px"></div>
<div class="vd" style="left:558.4px;top:60.4px;height:228.7px"></div>
<div class="vd" style="left:617.3px;top:60.4px;height:228.7px"></div>
<div class="vd" style="left:708.9px;top:60.4px;height:228.7px"></div>
</div>
<div class="redbox" style="left:628px;top:207.6px;width:176.1px;height:295.1px"></div>
</div>
</body></html>
